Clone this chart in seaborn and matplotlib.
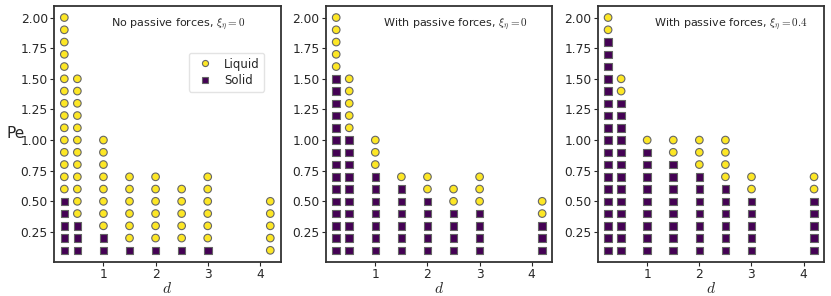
import matplotlib
matplotlib.use("Agg")
import matplotlib.pyplot as plt
import pandas as pd
import seaborn as sns

# columns of the phase diagram
d_values = [0.25, 0.5, 1, 1.5, 2, 2.5, 3, 4.2]
pe_levels = [0.1, 0.2, 0.3, 0.4, 0.5, 0.6, 0.7, 0.8, 0.9, 1.0,
             1.1, 1.2, 1.3, 1.4, 1.5, 1.6, 1.7, 1.8, 1.9, 2.0]

# number of Pe levels simulated for each d, per panel
levels_none = [20, 15, 10, 7, 7, 6, 7, 5]
levels_passive = [20, 15, 10, 7, 7, 6, 7, 5]
levels_passive_04 = [20, 15, 10, 10, 10, 10, 7, 7]

# number of solid states (counted from the bottom) per d, per panel
solid_none = [5, 3, 2, 1, 1, 1, 1, 0]
solid_passive = [15, 10, 7, 6, 5, 4, 4, 3]
solid_passive_04 = [18, 13, 9, 8, 7, 6, 5, 5]

titles = [r"No passive forces, $\xi_\eta=0$",
          r"With passive forces, $\xi_\eta=0$",
          r"With passive forces, $\xi_\eta=0.4$"]
panels = [(levels_none, solid_none),
          (levels_passive, solid_passive),
          (levels_passive_04, solid_passive_04)]


def build_frame(n_levels, n_solid):
    rows = []
    for d, n, s in zip(d_values, n_levels, n_solid):
        for i, pe in enumerate(pe_levels[:n]):
            rows.append({"d": d, "Pe": pe, "phase": "Solid" if i < s else "Liquid"})
    return pd.DataFrame(rows)


sns.set_style("white")
plt.rcParams["mathtext.fontset"] = "cm"
plt.rcParams["font.family"] = ["DejaVu Sans"]

fig, axes = plt.subplots(1, 3, figsize=(8.31, 2.96), dpi=100)
fig.subplots_adjust(left=0.065, right=0.992, top=0.98, bottom=0.115, wspace=0.2)

palette = {"Liquid": "#fde725", "Solid": "#440154"}
markers = {"Liquid": "o", "Solid": "s"}

for k, ax in enumerate(axes):
    df = build_frame(*panels[k])
    sns.scatterplot(data=df, x="d", y="Pe", hue="phase", style="phase",
                    hue_order=["Liquid", "Solid"], style_order=["Liquid", "Solid"],
                    palette=palette, markers=markers, s=30, edgecolor="#666666",
                    linewidth=0.8, ax=ax, legend=(k == 0))
    ax.set_xticks([1, 2, 3, 4])
    ax.set_yticks([0.25, 0.5, 0.75, 1.0, 1.25, 1.5, 1.75, 2.0])
    ax.set_yticklabels(["0.25", "0.50", "0.75", "1.00", "1.25", "1.50", "1.75", "2.00"])
    ax.tick_params(axis="both", labelsize=8.8, length=3, width=0.8, direction="out",
                   pad=1.5, left=True, bottom=True)
    for sp in ax.spines.values():
        sp.set_color("#333333")
        sp.set_linewidth(1.3)
    ax.set_xlabel(r"$d$", fontsize=11, labelpad=0)
    if k == 0:
        ax.set_ylabel("Pe", fontsize=11, rotation=0, va="center", ha="center")
        ax.yaxis.set_label_coords(-0.17, 0.5)
        leg = ax.legend(loc="upper right", bbox_to_anchor=(0.955, 0.84), fontsize=8.5,
                        frameon=True, handletextpad=0.6, borderpad=0.4,
                        labelspacing=0.3, markerscale=0.8)
        leg.get_frame().set_edgecolor("#dddddd")
        leg.set_title(None)
    else:
        ax.set_ylabel("")
    ax.text(0.25, 0.925, titles[k], transform=ax.transAxes, fontsize=8,
            ha="left", va="center")

fig.savefig("out.png", dpi=100)
